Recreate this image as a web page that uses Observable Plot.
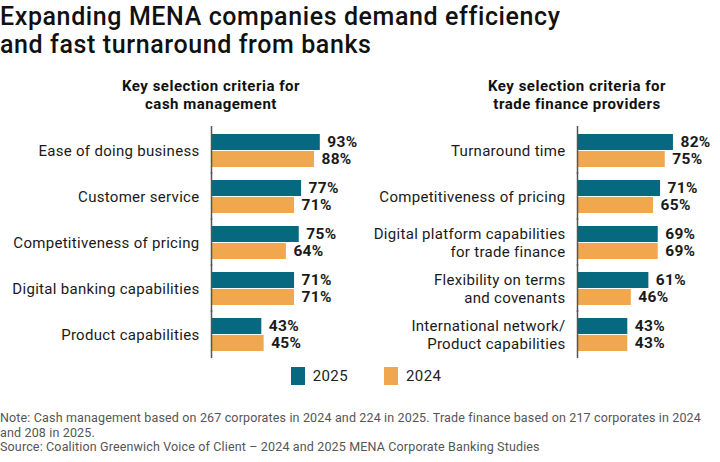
<!DOCTYPE html>
<html>
<head>
<meta charset="utf-8">
<script src="https://cdn.jsdelivr.net/npm/d3@7"></script>
<script src="https://cdn.jsdelivr.net/npm/@observablehq/plot@0.6"></script>
<style>
  html, body { margin: 0; padding: 0; background: #fff; }
  body { font-family: Roboto, "Noto Sans", sans-serif; color: #1a1a1a; }
  #wrap { position: relative; width: 720px; height: 462px; overflow: hidden; }
  #title { position: absolute; left: 0; top: 3px; font-size: 25px; font-weight: 500; line-height: 28px; letter-spacing: 0.6px; color: #111; white-space: nowrap; }
  .sub { position: absolute; top: 77px; width: 280px; text-align: center; font-size: 15px; font-weight: 700; line-height: 18px; letter-spacing: 0.5px; color: #111; }
  .plot { position: absolute; top: 122px; }
  #legend { position: absolute; top: 367px; left: 6px; width: 720px; text-align: center; font-size: 15px; letter-spacing: 0.4px; color: #222; }
  #legend span.sw { display: inline-block; width: 14px; height: 18px; vertical-align: -4px; margin-right: 8px; }
  #legend span.item { margin: 0 18px; }
  #notes { position: absolute; left: 0; top: 411px; font-size: 12.5px; line-height: 14.5px; letter-spacing: 0.15px; color: #555; width: 716px; }
</style>
</head>
<body>
<div id="wrap">
  <div id="title">Expanding MENA companies demand efficiency<br>and fast turnaround from banks</div>
  <div class="sub" id="sub1" style="left:71px">Key selection criteria for<br>cash management</div>
  <div class="sub" id="sub2" style="left:437px">Key selection criteria for<br>trade finance providers</div>
  <div class="plot" id="p1" style="left:0px"></div>
  <div class="plot" id="p2" style="left:360px"></div>
  <div id="legend"></div>
  <div id="notes">Note: Cash management based on 267 corporates in 2024 and 224 in 2025. Trade finance based on 217 corporates in 2024 and 208 in 2025.<br>Source: Coalition Greenwich Voice of Client – 2024 and 2025 MENA Corporate Banking Studies</div>
</div>
<script>
const years = ["2025", "2024"];
const yearColors = ["#06697f", "#f0a74d"];

const cashCategories = [
  "Ease of doing business",
  "Customer service",
  "Competitiveness of pricing",
  "Digital banking capabilities",
  "Product capabilities"
];
const cash2025 = [93, 77, 75, 71, 43];
const cash2024 = [88, 71, 64, 71, 45];

const tradeCategories = [
  "Turnaround time",
  "Competitiveness of pricing",
  "Digital platform capabilities\nfor trade finance",
  "Flexibility on terms\nand covenants",
  "International network/\nProduct capabilities"
];
const trade2025 = [82, 71, 69, 61, 43];
const trade2024 = [75, 65, 69, 46, 43];

function toRows(cats, v25, v24) {
  const rows = [];
  cats.forEach((c, i) => {
    rows.push({cat: c, year: "2025", value: v25[i]});
    rows.push({cat: c, year: "2024", value: v24[i]});
  });
  return rows;
}

function makePlot(cats, v25, v24, marginLeft) {
  const data = toRows(cats, v25, v24);
  return Plot.plot({
    width: 360,
    height: 235,
    marginTop: 10,
    marginBottom: 5,
    marginLeft: marginLeft,
    marginRight: 360 - marginLeft - 117,
    style: {fontFamily: "Roboto, 'Noto Sans', sans-serif", color: "#1a1a1a", background: "transparent", letterSpacing: "0.3px", overflow: "visible"},
    x: {domain: [0, 100], axis: null},
    y: {domain: years, paddingInner: 0.08, paddingOuter: 0, axis: null},
    fy: {domain: cats, paddingInner: 0.26, paddingOuter: 0, label: null},
    color: {domain: years, range: yearColors},
    marks: [
      Plot.barX(data, {x: "value", y: "year", fy: "cat", fill: "year"}),
      Plot.text(data, {x: "value", y: "year", fy: "cat", text: d => d.value + "%", dx: 7, textAnchor: "start", fontWeight: "bold", fontSize: 15.5, fill: "#1a1a1a"}),
      Plot.ruleX([0], {stroke: "#555", strokeWidth: 1.5, insetTop: -7, insetBottom: -7}),
      Plot.axisFy({anchor: "left", tickSize: 0, tickPadding: 12, label: null, fontSize: 15, lineHeight: 1.15, fill: "#1a1a1a"})
    ]
  });
}

document.getElementById("p1").appendChild(makePlot(cashCategories, cash2025, cash2024, 211));
document.getElementById("p2").appendChild(makePlot(tradeCategories, trade2025, trade2024, 217));

const legend = document.getElementById("legend");
years.forEach((y, i) => {
  const item = document.createElement("span");
  item.className = "item";
  item.innerHTML = `<span class="sw" style="background:${yearColors[i]}"></span>${y}`;
  legend.appendChild(item);
});
</script>
</body>
</html>
